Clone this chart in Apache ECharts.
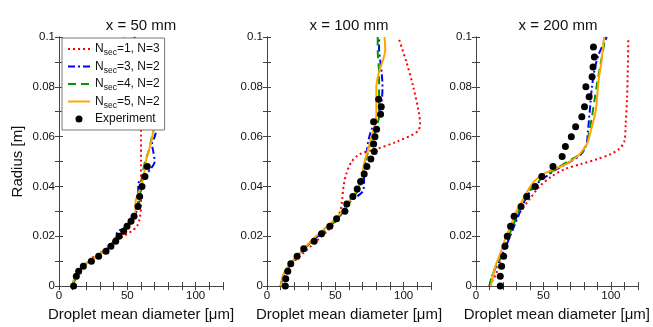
<!DOCTYPE html>
<html>
<head>
<meta charset="utf-8">
<script src="https://cdn.jsdelivr.net/npm/echarts@6/dist/echarts.min.js"></script>
<style>
html,body{margin:0;padding:0;background:#fff;}
#chart{width:653px;height:327px;}
</style>
</head>
<body>
<div id="chart"></div>
<script>
// ---- data: [diameter (µm), radius (m)] ----
var panelTitles = ['x = 50 mm', 'x = 100 mm', 'x = 200 mm'];
var seriesNames = ['Nsec=1, N=3', 'Nsec=3, N=2', 'Nsec=4, N=2', 'Nsec=5, N=2', 'Experiment'];
var xTickLabels = [0, 50, 100];
var yTickLabels = [0, 0.02, 0.04, 0.06, 0.08, 0.1];

// x = 50 mm
var p1_n1 = [[10,0],[13,0.004],[18,0.008],[26,0.012],[35,0.015],[42,0.018],[47,0.02],[53,0.022],[57,0.024],[59,0.027],[60,0.032],[60,0.04],[60,0.05],[60,0.06],[60,0.065],[60,0.08],[58,0.1]];
var p1_n3 = [[10,0],[12,0.004],[16,0.007],[22,0.01],[30,0.013],[37,0.016],[41,0.019],[43,0.022],[47,0.023],[52,0.026],[56,0.029],[58,0.033],[58,0.037],[58,0.041],[62,0.044],[67,0.047],[70,0.05],[69,0.054],[68,0.057],[70,0.06],[72,0.065],[72,0.075],[65,0.09],[55,0.1]];
var p1_n4 = [[10,0],[12,0.004],[16,0.007],[22,0.01],[30,0.013],[37,0.016],[42,0.019],[46,0.022],[51,0.025],[55,0.028],[58,0.031],[59,0.035],[60,0.04],[61,0.045],[63,0.05],[66,0.055],[68,0.06],[70,0.065],[70,0.075],[62,0.09],[52,0.1]];
var p1_n5 = [[10,0],[11,0.003],[13,0.005],[16,0.007],[20,0.009],[25,0.011],[30,0.013],[35,0.015],[39,0.017],[44,0.019],[48,0.022],[52,0.025],[55,0.028],[56,0.031],[56,0.034],[58,0.037],[60,0.04],[62,0.044],[63,0.048],[64,0.051],[66,0.055],[68,0.059],[69,0.063],[70,0.066],[68,0.075],[60,0.088],[50,0.096],[47,0.1]];
var p1_exp = [[10.7,0],[12.7,0.004],[14.4,0.006],[17.8,0.008],[23.7,0.010],[29.0,0.012],[34.4,0.014],[38.0,0.016],[41.5,0.018],[43.9,0.020],[47.3,0.022],[49.8,0.024],[52.7,0.026],[54.9,0.028],[57.8,0.032],[59.0,0.036],[60.7,0.040],[62.9,0.044],[64.6,0.048]];

// x = 100 mm
var p2_n1 = [[10,0],[12,0.004],[15,0.007],[20,0.01],[26,0.013],[32,0.016],[38,0.019],[44,0.022],[49,0.025],[52,0.028],[54,0.031],[55,0.035],[56,0.04],[58,0.045],[62,0.05],[68,0.053],[80,0.055],[95,0.058],[110,0.062],[112,0.065],[111,0.07],[107,0.08],[102,0.09],[96,0.1]];
var p2_n3 = [[10,0],[12,0.004],[15,0.007],[19,0.01],[24,0.013],[29,0.016],[35,0.019],[42,0.022],[48,0.025],[53,0.028],[57,0.031],[61,0.034],[66,0.036],[70,0.038],[71,0.041],[71,0.046],[72,0.05],[73,0.054],[74,0.058],[76,0.062],[79,0.066],[82,0.07],[84,0.075],[84.5,0.08],[84,0.085],[83,0.09],[82,0.095],[82,0.1]];
var p2_n4 = [[10,0],[12,0.004],[15,0.007],[19,0.01],[24,0.013],[29,0.016],[35,0.019],[42,0.022],[48,0.025],[53,0.028],[57,0.031],[61,0.034],[65,0.037],[68,0.04],[70,0.044],[71,0.048],[73,0.052],[75,0.056],[78,0.06],[80,0.064],[82,0.068],[82,0.075],[82,0.085],[81,0.095],[81,0.1]];
var p2_n5 = [[10,0],[11,0.003],[13,0.006],[17,0.009],[22,0.012],[27,0.015],[32,0.018],[38,0.021],[44,0.024],[50,0.027],[55,0.03],[60,0.034],[65,0.038],[68,0.041],[70,0.045],[71,0.049],[73,0.053],[75,0.057],[77,0.061],[79,0.065],[80,0.069],[80,0.075],[80,0.08],[82,0.086],[85,0.091],[86.5,0.095],[86,0.1]];
var p2_exp = [[13.4,0],[13.7,0.003],[15.2,0.006],[17.4,0.009],[22.0,0.012],[26.9,0.015],[34.5,0.018],[39.9,0.021],[46.0,0.024],[50.9,0.027],[57.0,0.030],[58.4,0.033],[62.8,0.036],[66.0,0.039],[68.5,0.042],[71.1,0.045],[73.1,0.048],[76.0,0.051],[78.5,0.054],[78.0,0.057],[79.0,0.060],[80.2,0.063],[78.0,0.066],[83.1,0.069],[83.6,0.072],[81.7,0.075]];

// x = 200 mm
var p3_n1 = [[10,0],[15,0.005],[18,0.01],[21,0.015],[24,0.02],[28,0.025],[33,0.03],[40,0.035],[47,0.04],[56,0.044],[66,0.047],[78,0.049],[90,0.051],[100,0.053],[106,0.055],[110,0.058],[111,0.065],[112,0.075],[112.5,0.085],[113,0.1]];
var p3_n3 = [[10,0],[12,0.004],[15,0.008],[19,0.012],[23,0.017],[26,0.021],[29,0.025],[32,0.029],[35,0.033],[39,0.037],[45,0.041],[52,0.044],[60,0.047],[70,0.05],[78,0.053],[82,0.057],[83,0.062],[84,0.068],[85,0.074],[86,0.08],[88,0.087],[91,0.093],[97,0.1]];
var p3_n4 = [[10,0],[12,0.004],[15,0.008],[19,0.012],[22,0.017],[25,0.021],[28,0.025],[31,0.029],[34,0.033],[38,0.037],[44,0.041],[51,0.044],[59,0.047],[68,0.05],[77,0.053],[82,0.057],[84,0.062],[86,0.068],[88,0.075],[90,0.082],[92,0.088],[94,0.094],[96,0.1]];
var p3_n5 = [[11,0],[13,0.005],[15,0.009],[18,0.013],[21,0.018],[24,0.022],[27,0.026],[30,0.03],[34,0.034],[38,0.038],[43,0.042],[50,0.045],[58,0.047],[67,0.049],[75,0.052],[80,0.055],[83,0.058],[85,0.062],[87,0.066],[89,0.071],[90,0.077],[91,0.083],[93,0.09],[95,0.1]];
var p3_exp = [[18,0],[18,0.004],[19,0.008],[20.5,0.012],[21.5,0.016],[23.2,0.020],[25.6,0.024],[28.3,0.028],[33.4,0.032],[37.6,0.036],[43.9,0.040],[48.8,0.044],[57.1,0.048],[63.9,0.052],[66.3,0.056],[70.7,0.060],[73.9,0.064],[78.5,0.068],[80.5,0.072],[83.9,0.076],[81.5,0.080],[86.1,0.084],[86.8,0.088],[87.8,0.092],[87.1,0.096]];

var panels = [
  [p1_n1, p1_n3, p1_n4, p1_n5, p1_exp],
  [p2_n1, p2_n3, p2_n4, p2_n5, p2_exp],
  [p3_n1, p3_n3, p3_n4, p3_n5, p3_exp]
];

// ---- styles ----
var FONT = 'Liberation Sans, Arial, sans-serif';
var gridLefts = [59, 267, 476];
var gridW = 164, gridTop = 37, gridH = 259;
var lineStyles = [
  {color: '#ff0000', width: 2, type: [2, 3]},
  {color: '#0000ff', width: 2, type: [7, 3, 2, 3]},
  {color: '#009a00', width: 2, type: [8, 5]},
  {color: '#ffa500', width: 2, type: 'solid'}
];
var axisColor = '#444';

var chart = echarts.init(document.getElementById('chart'), null, {renderer: 'canvas'});

var grids = [], xAxes = [], yAxes = [], series = [], titles = [];
function xLabel(v) {
  for (var i = 0; i < xTickLabels.length; i++) if (Math.abs(v - xTickLabels[i]) < 1e-6) return String(xTickLabels[i]);
  return '';
}
function yLabel(v) {
  for (var i = 0; i < yTickLabels.length; i++) if (Math.abs(v - yTickLabels[i]) < 1e-9) return String(yTickLabels[i]);
  return '';
}
for (var p = 0; p < 3; p++) {
  grids.push({left: gridLefts[p], top: gridTop, width: gridW, height: gridH, containLabel: false});
  titles.push({
    text: panelTitles[p], left: gridLefts[p] + gridW / 2, top: 18, textAlign: 'center', padding: 0,
    textStyle: {fontFamily: FONT, fontSize: 15, fontWeight: 'normal', color: '#111'}
  });
  var common = {
    type: 'value', gridIndex: p, min: 0, max: 120, interval: 10,
    axisLine: {show: true, lineStyle: {color: axisColor, width: 1}},
    axisTick: {show: true, inside: true, length: 4, lineStyle: {color: axisColor}},
    splitLine: {show: false}
  };
  xAxes.push(Object.assign({}, common, {
    position: 'bottom',
    axisLabel: {show: true, formatter: xLabel, margin: 4, fontFamily: FONT, fontSize: 11.5, color: '#111', showMaxLabel: true},
    name: 'Droplet mean diameter [\u03bcm]', nameLocation: 'middle', nameGap: 19,
    nameTextStyle: {fontFamily: FONT, fontSize: 15, color: '#111'}
  }));
  xAxes.push(Object.assign({}, common, {position: 'top', axisLabel: {show: false}}));
  var ycommon = {
    type: 'value', gridIndex: p, min: 0, max: 0.1, interval: 0.01,
    axisLine: {show: true, lineStyle: {color: axisColor, width: 1}},
    axisTick: {show: true, inside: true, length: 4, lineStyle: {color: axisColor}},
    splitLine: {show: false}
  };
  var yl = Object.assign({}, ycommon, {
    position: 'left',
    axisLabel: {show: true, formatter: yLabel, margin: 4, fontFamily: FONT, fontSize: 11.5, color: '#111'}
  });
  if (p === 0) {
    yl.name = 'Radius [m]'; yl.nameLocation = 'middle'; yl.nameGap = 34;
    yl.nameTextStyle = {fontFamily: FONT, fontSize: 15, color: '#111'};
  }
  yAxes.push(yl);
  yAxes.push(Object.assign({}, ycommon, {position: 'right', axisLabel: {show: false}}));

  for (var s = 0; s < 4; s++) {
    series.push({
      type: 'line', name: seriesNames[s], xAxisIndex: 2 * p, yAxisIndex: 2 * p,
      data: panels[p][s], symbol: 'none', smooth: 0.3, z: 2 + s,
      lineStyle: lineStyles[s], itemStyle: {color: lineStyles[s].color}
    });
  }
  series.push({
    type: 'scatter', name: seriesNames[4], xAxisIndex: 2 * p, yAxisIndex: 2 * p,
    data: panels[p][4], symbol: 'circle', symbolSize: 7, z: 10,
    itemStyle: {color: '#000', opacity: 1}
  });
}

var legendRich = {
  n: {fontFamily: FONT, fontSize: 12, color: '#111', lineHeight: 14},
  s: {fontFamily: FONT, fontSize: 8.5, color: '#111', lineHeight: 17, verticalAlign: 'bottom'}
};
var legendData = seriesNames.map(function (nm, i) {
  if (i < 4) return {name: nm, itemStyle: {color: 'rgba(0,0,0,0)', borderWidth: 0, opacity: 0}};
  return {name: nm, icon: 'circle', itemStyle: {color: '#000', opacity: 1}};
});

chart.setOption({
  animation: false,
  backgroundColor: '#fff',
  title: titles,
  grid: grids,
  xAxis: xAxes,
  yAxis: yAxes,
  legend: {
    data: legendData,
    orient: 'vertical', left: 62, top: 38,
    backgroundColor: '#fff', borderColor: '#777', borderWidth: 1, borderRadius: 0,
    padding: [5, 5, 5, 5], itemGap: 3, itemWidth: 22, itemHeight: 7,
    selectedMode: false, z: 20,
    textStyle: {fontFamily: FONT, fontSize: 12, color: '#111', rich: legendRich},
    formatter: function (name) {
      if (name.indexOf('Nsec') === 0) return '{n|N}{s|sec}{n|' + name.slice(4) + '}';
      return '{n|' + name + '}';
    }
  },
  series: series
});
</script>
</body>
</html>
